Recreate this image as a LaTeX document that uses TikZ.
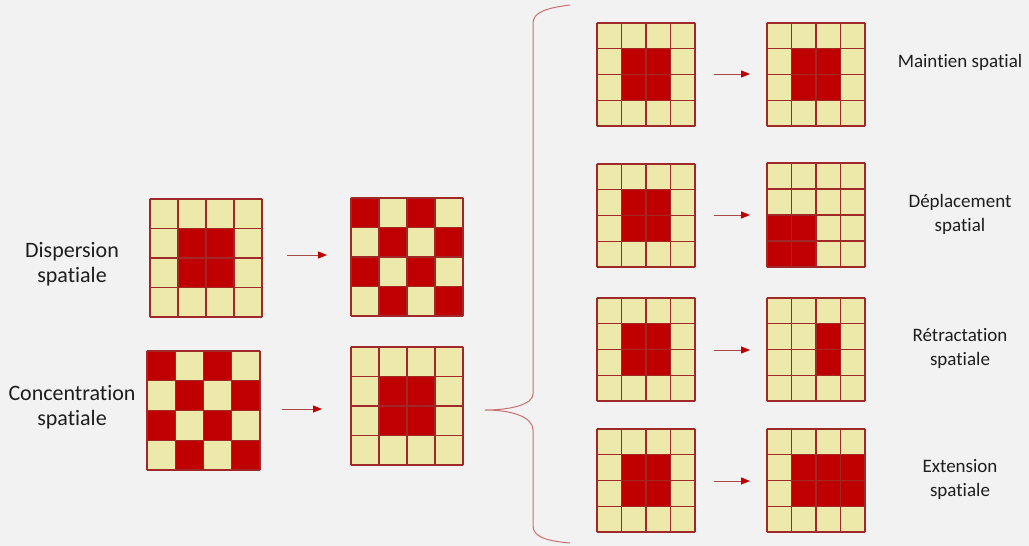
\documentclass[tikz,border=0pt]{standalone}
\usepackage{fontspec}
\setmainfont{Carlito}[Ligatures=NoCommon]
\usetikzlibrary{arrows.meta}
\definecolor{bg}{HTML}{F2F2F2}
\definecolor{cream}{HTML}{EDE9AB}
\definecolor{dred}{HTML}{C00000}
\definecolor{gline}{HTML}{A02828}
\definecolor{bracec}{HTML}{C97070}
\definecolor{arrline}{HTML}{A94848}
\definecolor{txt}{HTML}{1E1E1E}
\newcommand\mygrid[6]{%
  \node[gridbox,minimum width=#4pt,minimum height=#5pt,anchor=north west] (#1) at (#2,#3) {};
  \fill[cream] (#2,#3) rectangle ++(#4,#5);
  \foreach \c/\r in {#6}{\fill[dred] ({#2+\c*#4/4},{#3+\r*#5/4}) rectangle ++({#4/4},{#5/4});}
  \foreach \i in {0,...,4}{%
    \draw[gridline] ({#2+\i*#4/4},#3) -- ++(0,#5);
    \draw[gridline] (#2,{#3+\i*#5/4}) -- ++(#4,0);}
}
\begin{document}
\begin{tikzpicture}[x=1pt,y=-1pt,
  gridbox/.style={rectangle,draw=none,inner sep=0pt,outer sep=0pt},
  gridline/.style={draw=gline,line width=1.1pt},
  arr/.style={draw=arrline,line width=0.9pt,-{Triangle[length=9pt,width=7pt,color=dred]}},
  bracestyle/.style={draw=bracec,line width=1pt},
  lbl/.style={align=center,text=txt,inner sep=0pt,font=\fontsize{22}{25}\selectfont},
  rlbl/.style={align=center,text=txt,inner sep=0pt,font=\fontsize{19}{24}\selectfont}]
\useasboundingbox[fill=bg] (0,0) rectangle (1029,546);
% left grids
\mygrid{g1}{150}{199}{112}{118}{1/1,2/1,1/2,2/2}
\mygrid{g2}{351}{198}{112}{118}{0/0,2/0,1/1,3/1,0/2,2/2,1/3,3/3}
\mygrid{g3}{147}{351}{113}{119}{0/0,2/0,1/1,3/1,0/2,2/2,1/3,3/3}
\mygrid{g4}{351}{347}{112}{118}{1/1,2/1,1/2,2/2}
% right grids
\mygrid{a1}{597}{23}{98}{103}{1/1,2/1,1/2,2/2}
\mygrid{b1}{767}{23}{98}{103}{1/1,2/1,1/2,2/2}
\mygrid{a2}{597}{164}{98}{103}{1/1,2/1,1/2,2/2}
\mygrid{b2}{767}{163}{98}{104}{0/2,1/2,0/3,1/3}
\mygrid{a3}{597}{298}{98}{103}{1/1,2/1,1/2,2/2}
\mygrid{b3}{767}{298}{98}{103}{2/1,2/2}
\mygrid{a4}{597}{429}{98}{103}{1/1,2/1,1/2,2/2}
\mygrid{b4}{767}{429}{98}{103}{1/1,2/1,3/1,1/2,2/2,3/2}
% arrow end points
\coordinate (p1s) at (287,255); \coordinate (p1e) at (327,255);
\coordinate (p2s) at (282,409); \coordinate (p2e) at (322,409);
\foreach \n/\y in {1/74,2/215,3/350,4/481}{
  \coordinate (q\n s) at (714,\y); \coordinate (q\n e) at (750,\y);}
\draw[arr] (p1s) -- (p1e);
\draw[arr] (p2s) -- (p2e);
\foreach \n in {1,2,3,4}{\draw[arr] (q\n s) -- (q\n e);}
% brace
\coordinate (tip) at (485,410);
\draw[bracestyle] (570,5) .. controls (545,8) and (533,13) .. (533,23) -- (533,394)
  .. controls (533,404) and (512,410) .. (tip)
  .. controls (512,410) and (533,417) .. (533,430) -- (533,526)
  .. controls (533,536) and (545,541) .. (570,543);
% labels
\node[lbl] (l1) at (72,264) {Dispersion\\spatiale};
\node[lbl] (l2) at (72,407) {Concentration\\spatiale};
\node[rlbl] (r1) at (960,62) {Maintien spatial};
\node[rlbl] (r2) at (960,214) {Déplacement\\spatial};
\node[rlbl] (r3) at (960,348) {Rétractation\\spatiale};
\node[rlbl] (r4) at (960,479) {Extension\\spatiale};
\end{tikzpicture}
\end{document}
